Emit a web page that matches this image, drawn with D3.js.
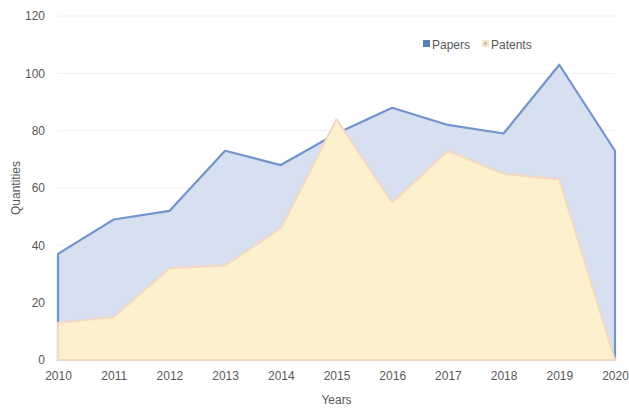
<!DOCTYPE html>
<html lang="en">
<head>
    <meta charset="UTF-8">
    <title>Papers and Patents</title>
    <script src="https://d3js.org/d3.v7.min.js"></script>
    <style>
        body { margin: 0; background: #fff; }
        svg { display: block; font-family: "Liberation Sans", Arial, sans-serif; }
    </style>
</head>
<body>
<script>

    var years = [2010, 2011, 2012, 2013, 2014, 2015, 2016, 2017, 2018, 2019, 2020];
    var papers = [37, 49, 52, 73, 68, 79, 88, 82, 79, 103, 73];
    var patents = [13, 15, 32, 33, 46, 84, 55, 73, 65, 63, 0];
    var yTicks = [0, 20, 40, 60, 80, 100, 120];

    var width = 629;
    var height = 410;

    var margin = {
        top: 16,
        right: 14,
        bottom: 50,
        left: 58
    };

    var svg = d3.select("body").append("svg")
        .attr("width", width)
        .attr("height", height);

    var defs = svg.append("defs");
    var blur = defs.append("filter")
        .attr("id", "soft")
        .attr("x", "-5%").attr("y", "-5%")
        .attr("width", "110%").attr("height", "110%");
    blur.append("feGaussianBlur").attr("stdDeviation", 0.7);

    var xScale = d3.scaleLinear()
        .domain([2010, 2020])
        .range([margin.left, width - margin.right]);
    var yScale = d3.scaleLinear()
        .domain([0, 120])
        .range([height - margin.bottom, margin.top]);

    // gridlines
    svg.append("g")
        .selectAll("line")
        .data(yTicks)
        .join("line")
        .attr("x1", xScale(2010))
        .attr("x2", xScale(2020))
        .attr("y1", function (d) { return yScale(d); })
        .attr("y2", function (d) { return yScale(d); })
        .attr("stroke", "#f0f0f0")
        .attr("stroke-width", 1);

    var area = function (values) {
        return d3.area()
            .x(function (d, i) { return xScale(years[i]); })
            .y0(yScale(0))
            .y1(function (d) { return yScale(d); })(values);
    };

    // papers area
    svg.append("path")
        .attr("d", area(papers))
        .attr("fill", "#d6e0f1")
        .attr("stroke", "#7393cb")
        .attr("stroke-width", 2.2)
        .attr("stroke-linejoin", "round")
        .attr("filter", "url(#soft)");

    // patents area
    svg.append("path")
        .attr("d", area(patents))
        .attr("fill", "#fdf0cd")
        .attr("stroke", "#f3d8c6")
        .attr("stroke-width", 2.2)
        .attr("stroke-linejoin", "round")
        .attr("filter", "url(#soft)");

    // axes
    var xAxis = d3.axisBottom(xScale)
        .tickValues(years)
        .tickFormat(d3.format("d"))
        .tickSize(0)
        .tickPadding(11);
    var yAxis = d3.axisLeft(yScale)
        .tickValues(yTicks)
        .tickSize(0)
        .tickPadding(13);

    var gx = svg.append("g")
        .attr("transform", "translate(0," + yScale(0) + ")")
        .call(xAxis);
    var gy = svg.append("g")
        .attr("transform", "translate(" + margin.left + ",0)")
        .call(yAxis);

    [gx, gy].forEach(function (g) {
        g.select(".domain").remove();
        g.selectAll("text")
            .attr("font-size", "12px")
            .attr("font-family", "Liberation Sans, Arial, sans-serif")
            .attr("fill", "#595959");
    });

    // axis titles
    svg.append("text")
        .attr("x", (xScale(2010) + xScale(2020)) / 2)
        .attr("y", 404)
        .attr("text-anchor", "middle")
        .attr("font-size", "12px")
        .attr("fill", "#595959")
        .text("Years");

    svg.append("text")
        .attr("transform", "translate(20," + yScale(60) + ") rotate(-90)")
        .attr("text-anchor", "middle")
        .attr("font-size", "12px")
        .attr("fill", "#595959")
        .text("Quantities");

    // legend
    var legend = svg.append("g").attr("transform", "translate(423,44)");
    legend.append("rect")
        .attr("x", 0).attr("y", -4)
        .attr("width", 7).attr("height", 7)
        .attr("fill", "#5b7dbd");
    legend.append("text")
        .attr("x", 9).attr("y", 4.5)
        .attr("font-size", "12px")
        .attr("fill", "#595959")
        .text("Papers");
    legend.append("rect")
        .attr("x", 59).attr("y", -4)
        .attr("width", 7).attr("height", 7)
        .attr("fill", "#f8e3d3");
    legend.append("rect")
        .attr("x", 61).attr("y", -2)
        .attr("width", 3).attr("height", 3)
        .attr("fill", "#c9c4a6");
    legend.append("text")
        .attr("x", 68).attr("y", 4.5)
        .attr("font-size", "12px")
        .attr("fill", "#595959")
        .text("Patents");

</script>
</body>
</html>
